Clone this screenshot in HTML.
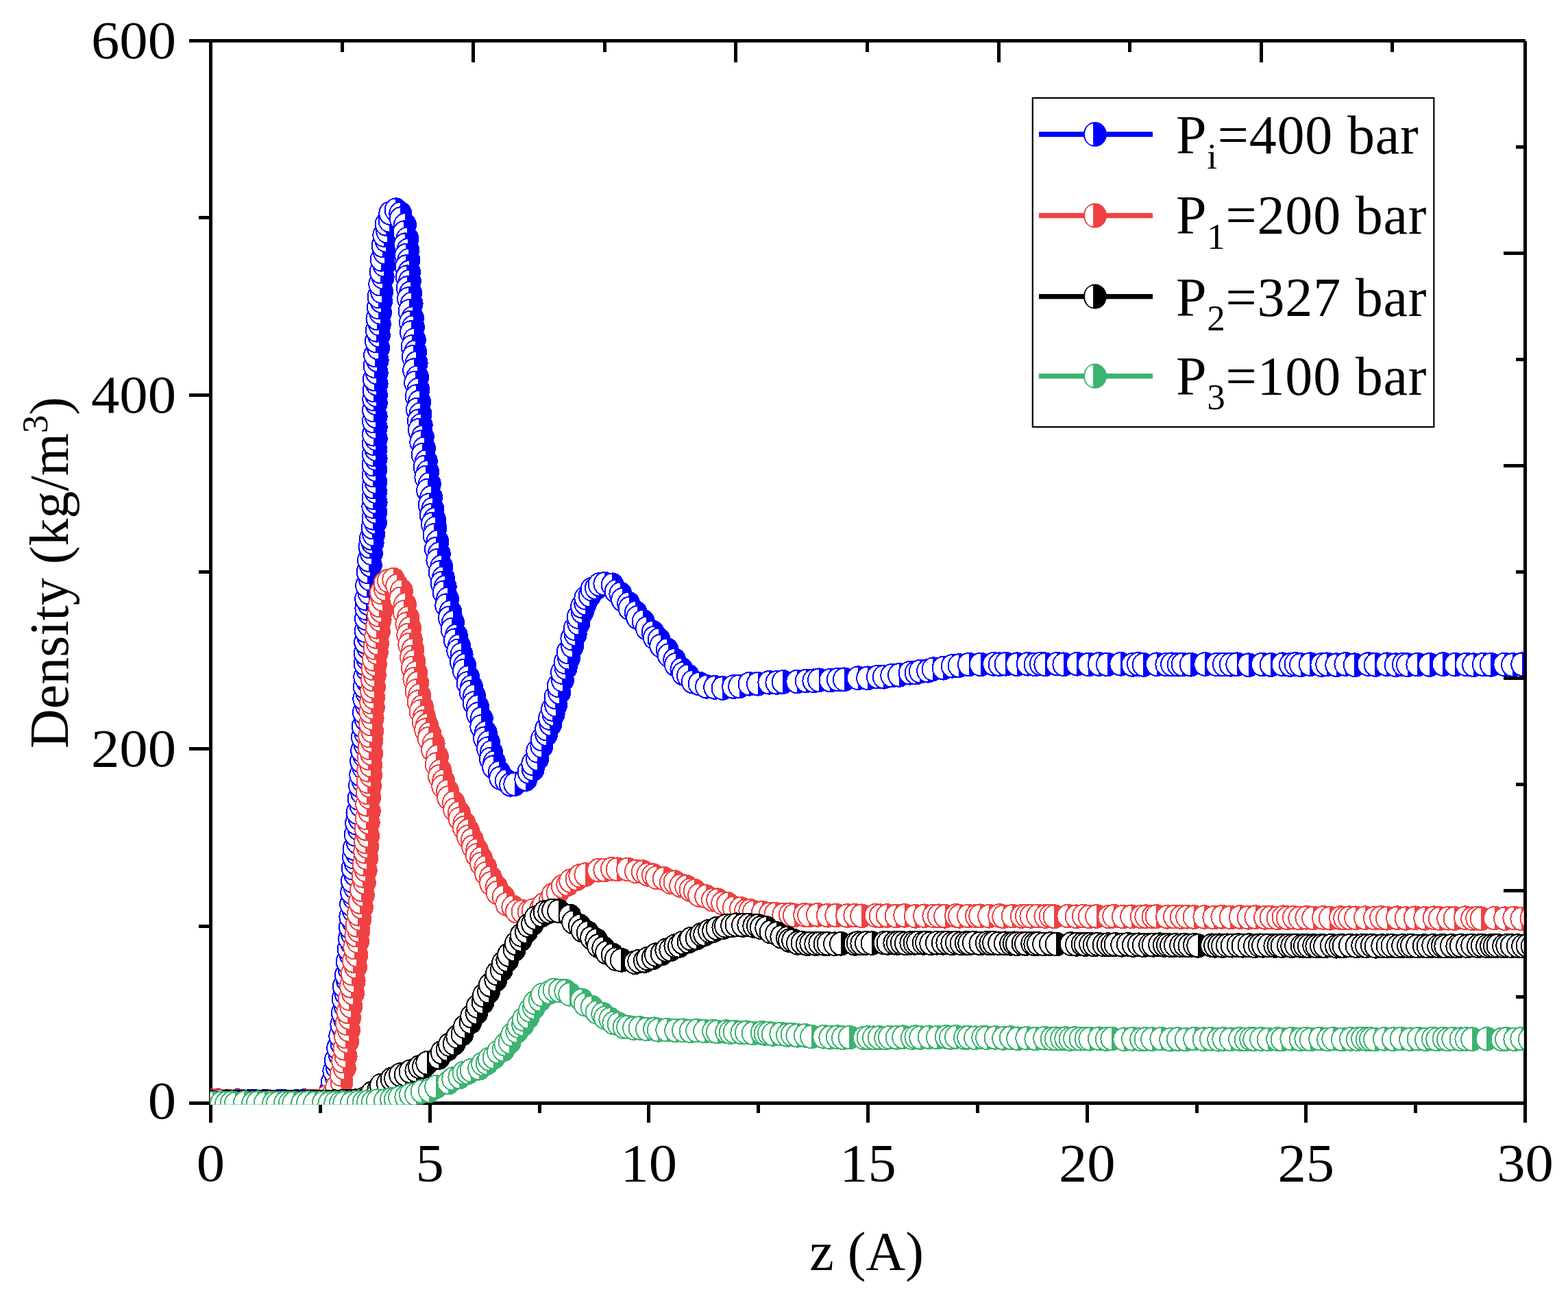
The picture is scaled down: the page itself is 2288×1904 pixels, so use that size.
<!DOCTYPE html><html><head><meta charset="utf-8"><style>html,body{margin:0;padding:0;background:#fff;}svg{display:block}text{font-family:"Liberation Serif","Times New Roman",serif;fill:#000}</style></head><body><svg width="2288" height="1904" viewBox="0 0 2288 1904"><defs><g id="mb"><ellipse rx="17" ry="17.9" fill="#0000FF"/><path d="M-0.4,-15.7A14.6 15.7 0 0 0 -0.4,15.7Z" fill="#fff"/></g><g id="Lb"><ellipse rx="17" ry="18.1" fill="#0000FF"/><path d="M-2.85,-15.6A12 15.6 0 0 0 -2.85,15.6Z" fill="#fff"/></g><g id="mr"><ellipse rx="17" ry="17.9" fill="#EF4142"/><path d="M-0.4,-15.7A14.6 15.7 0 0 0 -0.4,15.7Z" fill="#fff"/></g><g id="Lr"><ellipse rx="17" ry="18.1" fill="#EF4142"/><path d="M-2.85,-15.6A12 15.6 0 0 0 -2.85,15.6Z" fill="#fff"/></g><g id="mk"><ellipse rx="17" ry="17.9" fill="#000000"/><path d="M-0.4,-15.7A14.6 15.7 0 0 0 -0.4,15.7Z" fill="#fff"/></g><g id="Lk"><ellipse rx="17" ry="18.1" fill="#000000"/><path d="M-2.85,-15.6A12 15.6 0 0 0 -2.85,15.6Z" fill="#fff"/></g><g id="mg"><ellipse rx="17" ry="17.9" fill="#3CB371"/><path d="M-0.4,-15.7A14.6 15.7 0 0 0 -0.4,15.7Z" fill="#fff"/></g><g id="Lg"><ellipse rx="17" ry="18.1" fill="#3CB371"/><path d="M-2.85,-15.6A12 15.6 0 0 0 -2.85,15.6Z" fill="#fff"/></g><clipPath id="pc"><rect x="306.8" y="57" width="1916.7" height="1554.5"/></clipPath></defs><rect width="2288" height="1904" fill="#fff"/><path d="M275.7,59.5H2225.5M307.5,59.5V1638M275.7,1609.5H2225.5M2225.5,59.5V1638" stroke="#000" stroke-width="5" fill="none" shape-rendering="crispEdges"/><path d="M467.3,1609.5V1623.8M627.2,1609.5V1638M787.0,1609.5V1623.8M946.8,1609.5V1638M1106.7,1609.5V1623.8M1266.5,1609.5V1638M1426.3,1609.5V1623.8M1586.2,1609.5V1638M1746.0,1609.5V1623.8M1905.8,1609.5V1638M2065.7,1609.5V1623.8M307.5,1351.2H290M307.5,1092.8H275.7M307.5,834.5H290M307.5,576.2H275.7M307.5,317.8H290M499.1,59.5V76.4M690.7,59.5V90.7M882.3,59.5V76.4M1073.9,59.5V90.7M1265.5,59.5V76.4M1457.1,59.5V90.7M1648.7,59.5V76.4M1840.3,59.5V90.7M2031.9,59.5V76.4M2225.5,214.5H2211.5M2225.5,369.5H2194.3M2225.5,524.4H2211.5M2225.5,679.4H2194.3M2225.5,834.4H2211.5M2225.5,989.4H2194.3M2225.5,1144.4H2211.5M2225.5,1299.3H2194.3M2225.5,1454.3H2211.5" stroke="#000" stroke-width="5" fill="none" shape-rendering="crispEdges"/><g clip-path="url(#pc)" shape-rendering="crispEdges"><use href="#mb" x="290.0" y="1605.5"/><use href="#mb" x="307.9" y="1606.8"/><use href="#mb" x="317.4" y="1605.8"/><use href="#mb" x="329.6" y="1606.8"/><use href="#mb" x="346.5" y="1606.0"/><use href="#mb" x="352.8" y="1606.7"/><use href="#mb" x="364.8" y="1606.7"/><use href="#mb" x="370.9" y="1606.8"/><use href="#mb" x="386.9" y="1606.5"/><use href="#mb" x="406.0" y="1607.1"/><use href="#mb" x="412.5" y="1606.5"/><use href="#mb" x="432.6" y="1607.0"/><use href="#mb" x="443.9" y="1606.1"/><use href="#mb" x="455.7" y="1606.9"/><use href="#mb" x="474.2" y="1603.8"/><use href="#mb" x="482.3" y="1600.0"/><use href="#mb" x="482.3" y="1592.0"/><use href="#mb" x="487.5" y="1586.0"/><use href="#mb" x="485.0" y="1578.4"/><use href="#mb" x="490.4" y="1570.8"/><use href="#mb" x="487.4" y="1562.8"/><use href="#mb" x="491.9" y="1557.3"/><use href="#mb" x="489.8" y="1546.7"/><use href="#mb" x="495.6" y="1538.8"/><use href="#mb" x="493.2" y="1529.0"/><use href="#mb" x="498.5" y="1522.9"/><use href="#mb" x="496.3" y="1511.4"/><use href="#mb" x="501.6" y="1501.8"/><use href="#mb" x="498.4" y="1494.8"/><use href="#mb" x="503.1" y="1487.5"/><use href="#mb" x="499.8" y="1477.7"/><use href="#mb" x="503.9" y="1468.2"/><use href="#mb" x="500.6" y="1457.4"/><use href="#mb" x="504.6" y="1449.6"/><use href="#mb" x="501.8" y="1439.0"/><use href="#mb" x="507.0" y="1430.4"/><use href="#mb" x="505.0" y="1422.5"/><use href="#mb" x="509.6" y="1414.0"/><use href="#mb" x="506.7" y="1403.3"/><use href="#mb" x="511.9" y="1393.5"/><use href="#mb" x="508.7" y="1384.6"/><use href="#mb" x="513.2" y="1376.0"/><use href="#mb" x="510.0" y="1369.6"/><use href="#mb" x="513.9" y="1362.6"/><use href="#mb" x="510.8" y="1352.4"/><use href="#mb" x="515.3" y="1344.6"/><use href="#mb" x="511.4" y="1337.5"/><use href="#mb" x="515.9" y="1329.0"/><use href="#mb" x="512.1" y="1319.3"/><use href="#mb" x="516.7" y="1310.1"/><use href="#mb" x="513.2" y="1302.1"/><use href="#mb" x="517.5" y="1294.1"/><use href="#mb" x="514.0" y="1285.4"/><use href="#mb" x="518.1" y="1275.7"/><use href="#mb" x="514.6" y="1266.8"/><use href="#mb" x="518.9" y="1259.1"/><use href="#mb" x="515.9" y="1250.4"/><use href="#mb" x="520.2" y="1244.6"/><use href="#mb" x="516.6" y="1238.1"/><use href="#mb" x="521.7" y="1229.0"/><use href="#mb" x="518.7" y="1217.7"/><use href="#mb" x="523.5" y="1209.2"/><use href="#mb" x="520.2" y="1200.9"/><use href="#mb" x="524.6" y="1194.4"/><use href="#mb" x="521.5" y="1185.6"/><use href="#mb" x="526.5" y="1175.1"/><use href="#mb" x="523.5" y="1164.9"/><use href="#mb" x="528.1" y="1156.5"/><use href="#mb" x="525.0" y="1146.0"/><use href="#mb" x="529.5" y="1139.1"/><use href="#mb" x="526.3" y="1130.3"/><use href="#mb" x="530.3" y="1119.8"/><use href="#mb" x="527.2" y="1110.7"/><use href="#mb" x="531.3" y="1102.6"/><use href="#mb" x="528.2" y="1095.1"/><use href="#mb" x="532.7" y="1086.6"/><use href="#mb" x="528.9" y="1075.6"/><use href="#mb" x="533.4" y="1069.8"/><use href="#mb" x="529.7" y="1059.7"/><use href="#mb" x="533.8" y="1049.7"/><use href="#mb" x="530.9" y="1039.2"/><use href="#mb" x="534.8" y="1029.6"/><use href="#mb" x="531.3" y="1019.5"/><use href="#mb" x="535.5" y="1011.0"/><use href="#mb" x="531.8" y="1002.1"/><use href="#mb" x="535.9" y="994.0"/><use href="#mb" x="532.3" y="987.7"/><use href="#mb" x="536.3" y="977.4"/><use href="#mb" x="532.7" y="968.5"/><use href="#mb" x="536.5" y="961.6"/><use href="#mb" x="532.8" y="953.0"/><use href="#mb" x="536.7" y="944.6"/><use href="#mb" x="533.1" y="936.8"/><use href="#mb" x="537.3" y="929.1"/><use href="#mb" x="533.5" y="920.4"/><use href="#mb" x="537.7" y="911.3"/><use href="#mb" x="533.9" y="902.2"/><use href="#mb" x="537.9" y="894.0"/><use href="#mb" x="534.4" y="887.7"/><use href="#mb" x="537.8" y="880.7"/><use href="#mb" x="534.2" y="873.7"/><use href="#mb" x="538.4" y="864.9"/><use href="#mb" x="535.2" y="854.4"/><use href="#mb" x="539.6" y="844.7"/><use href="#mb" x="536.6" y="834.5"/><use href="#mb" x="540.8" y="824.7"/><use href="#mb" x="537.9" y="817.1"/><use href="#mb" x="541.9" y="807.2"/><use href="#mb" x="539.5" y="797.6"/><use href="#mb" x="543.6" y="791.6"/><use href="#mb" x="541.0" y="785.1"/><use href="#mb" x="545.2" y="779.6"/><use href="#mb" x="543.5" y="769.5"/><use href="#mb" x="547.8" y="762.6"/><use href="#mb" x="544.5" y="755.9"/><use href="#mb" x="548.2" y="746.9"/><use href="#mb" x="544.3" y="739.1"/><use href="#mb" x="548.6" y="732.8"/><use href="#mb" x="544.5" y="726.0"/><use href="#mb" x="548.1" y="717.3"/><use href="#mb" x="544.6" y="710.5"/><use href="#mb" x="548.4" y="703.1"/><use href="#mb" x="544.6" y="693.5"/><use href="#mb" x="548.3" y="685.3"/><use href="#mb" x="544.5" y="677.7"/><use href="#mb" x="548.6" y="669.3"/><use href="#mb" x="544.8" y="663.2"/><use href="#mb" x="548.4" y="655.3"/><use href="#mb" x="544.8" y="647.1"/><use href="#mb" x="548.8" y="640.2"/><use href="#mb" x="545.0" y="633.7"/><use href="#mb" x="548.7" y="623.2"/><use href="#mb" x="544.9" y="614.6"/><use href="#mb" x="548.7" y="607.6"/><use href="#mb" x="545.0" y="598.5"/><use href="#mb" x="548.8" y="588.5"/><use href="#mb" x="545.3" y="582.3"/><use href="#mb" x="548.9" y="576.3"/><use href="#mb" x="545.6" y="569.5"/><use href="#mb" x="549.6" y="560.0"/><use href="#mb" x="545.9" y="553.1"/><use href="#mb" x="549.7" y="543.7"/><use href="#mb" x="546.5" y="534.2"/><use href="#mb" x="550.7" y="525.6"/><use href="#mb" x="547.1" y="518.3"/><use href="#mb" x="552.1" y="507.7"/><use href="#mb" x="548.8" y="497.5"/><use href="#mb" x="552.9" y="489.2"/><use href="#mb" x="549.7" y="481.8"/><use href="#mb" x="553.8" y="472.8"/><use href="#mb" x="550.5" y="464.6"/><use href="#mb" x="555.1" y="456.0"/><use href="#mb" x="551.9" y="448.2"/><use href="#mb" x="556.2" y="439.3"/><use href="#mb" x="552.5" y="432.7"/><use href="#mb" x="557.1" y="425.6"/><use href="#mb" x="554.3" y="414.5"/><use href="#mb" x="558.7" y="404.4"/><use href="#mb" x="555.6" y="396.6"/><use href="#mb" x="560.3" y="386.7"/><use href="#mb" x="556.6" y="378.8"/><use href="#mb" x="561.2" y="368.4"/><use href="#mb" x="558.5" y="358.4"/><use href="#mb" x="563.4" y="350.9"/><use href="#mb" x="560.3" y="343.1"/><use href="#mb" x="565.3" y="337.8"/><use href="#mb" x="563.6" y="326.9"/><use href="#mb" x="568.5" y="321.9"/><use href="#mb" x="569.3" y="311.0"/><use href="#mb" x="577.6" y="306.2"/><use href="#mb" x="584.3" y="311.6"/><use href="#mb" x="584.7" y="319.1"/><use href="#mb" x="590.9" y="328.0"/><use href="#mb" x="589.5" y="339.3"/><use href="#mb" x="594.4" y="348.3"/><use href="#mb" x="591.0" y="357.2"/><use href="#mb" x="595.3" y="364.8"/><use href="#mb" x="592.2" y="372.7"/><use href="#mb" x="596.3" y="379.6"/><use href="#mb" x="592.7" y="389.1"/><use href="#mb" x="596.9" y="397.0"/><use href="#mb" x="593.7" y="404.2"/><use href="#mb" x="597.8" y="410.5"/><use href="#mb" x="594.8" y="420.1"/><use href="#mb" x="599.1" y="427.3"/><use href="#mb" x="596.1" y="436.0"/><use href="#mb" x="600.6" y="443.3"/><use href="#mb" x="597.5" y="453.9"/><use href="#mb" x="602.1" y="464.1"/><use href="#mb" x="598.8" y="470.5"/><use href="#mb" x="602.9" y="477.2"/><use href="#mb" x="600.1" y="485.1"/><use href="#mb" x="604.8" y="495.7"/><use href="#mb" x="601.5" y="505.9"/><use href="#mb" x="606.1" y="513.2"/><use href="#mb" x="602.9" y="520.6"/><use href="#mb" x="607.6" y="529.6"/><use href="#mb" x="604.2" y="540.1"/><use href="#mb" x="609.2" y="550.4"/><use href="#mb" x="606.1" y="558.4"/><use href="#mb" x="610.4" y="568.5"/><use href="#mb" x="607.6" y="578.2"/><use href="#mb" x="612.1" y="586.2"/><use href="#mb" x="608.9" y="597.5"/><use href="#mb" x="613.5" y="604.3"/><use href="#mb" x="610.7" y="614.2"/><use href="#mb" x="614.7" y="620.3"/><use href="#mb" x="611.8" y="627.5"/><use href="#mb" x="616.8" y="637.5"/><use href="#mb" x="614.3" y="645.0"/><use href="#mb" x="619.0" y="654.2"/><use href="#mb" x="616.7" y="663.6"/><use href="#mb" x="621.8" y="673.2"/><use href="#mb" x="619.5" y="681.4"/><use href="#mb" x="624.1" y="688.6"/><use href="#mb" x="621.4" y="696.5"/><use href="#mb" x="626.8" y="706.2"/><use href="#mb" x="624.1" y="715.6"/><use href="#mb" x="629.2" y="725.8"/><use href="#mb" x="626.7" y="736.7"/><use href="#mb" x="631.4" y="742.8"/><use href="#mb" x="628.9" y="752.0"/><use href="#mb" x="634.0" y="757.8"/><use href="#mb" x="630.8" y="764.5"/><use href="#mb" x="635.4" y="770.3"/><use href="#mb" x="633.5" y="781.0"/><use href="#mb" x="638.4" y="790.4"/><use href="#mb" x="635.9" y="801.0"/><use href="#mb" x="640.8" y="808.0"/><use href="#mb" x="638.4" y="817.6"/><use href="#mb" x="644.3" y="826.7"/><use href="#mb" x="641.6" y="835.1"/><use href="#mb" x="646.8" y="843.2"/><use href="#mb" x="644.6" y="850.9"/><use href="#mb" x="649.7" y="856.4"/><use href="#mb" x="647.7" y="864.3"/><use href="#mb" x="653.0" y="873.8"/><use href="#mb" x="651.3" y="883.3"/><use href="#mb" x="657.4" y="892.8"/><use href="#mb" x="655.8" y="901.6"/><use href="#mb" x="660.9" y="908.0"/><use href="#mb" x="659.7" y="918.6"/><use href="#mb" x="665.9" y="927.4"/><use href="#mb" x="663.9" y="934.2"/><use href="#mb" x="670.1" y="942.2"/><use href="#mb" x="668.3" y="949.4"/><use href="#mb" x="673.6" y="954.8"/><use href="#mb" x="673.0" y="965.8"/><use href="#mb" x="678.2" y="970.7"/><use href="#mb" x="677.0" y="978.6"/><use href="#mb" x="683.4" y="988.1"/><use href="#mb" x="682.5" y="996.9"/><use href="#mb" x="688.1" y="1002.0"/><use href="#mb" x="686.6" y="1009.6"/><use href="#mb" x="692.2" y="1015.4"/><use href="#mb" x="691.7" y="1025.8"/><use href="#mb" x="697.0" y="1030.9"/><use href="#mb" x="697.0" y="1042.0"/><use href="#mb" x="702.8" y="1048.5"/><use href="#mb" x="702.3" y="1060.0"/><use href="#mb" x="708.8" y="1069.0"/><use href="#mb" x="707.1" y="1077.3"/><use href="#mb" x="713.0" y="1083.1"/><use href="#mb" x="712.0" y="1092.2"/><use href="#mb" x="717.1" y="1097.5"/><use href="#mb" x="716.0" y="1107.4"/><use href="#mb" x="721.3" y="1112.3"/><use href="#mb" x="720.2" y="1119.2"/><use href="#mb" x="728.6" y="1127.1"/><use href="#mb" x="730.3" y="1135.1"/><use href="#mb" x="738.8" y="1139.2"/><use href="#mb" x="745.1" y="1144.8"/><use href="#mb" x="751.3" y="1144.1"/><use href="#mb" x="767.3" y="1137.0"/><use href="#mb" x="771.5" y="1126.3"/><use href="#mb" x="777.7" y="1122.3"/><use href="#mb" x="777.3" y="1114.2"/><use href="#mb" x="784.1" y="1107.2"/><use href="#mb" x="784.3" y="1095.7"/><use href="#mb" x="790.4" y="1088.6"/><use href="#mb" x="790.8" y="1078.6"/><use href="#mb" x="797.3" y="1071.2"/><use href="#mb" x="797.2" y="1063.4"/><use href="#mb" x="803.4" y="1056.3"/><use href="#mb" x="802.2" y="1048.0"/><use href="#mb" x="807.6" y="1042.1"/><use href="#mb" x="806.0" y="1035.0"/><use href="#mb" x="811.2" y="1028.7"/><use href="#mb" x="810.5" y="1017.3"/><use href="#mb" x="816.1" y="1010.2"/><use href="#mb" x="814.8" y="1000.3"/><use href="#mb" x="820.9" y="992.4"/><use href="#mb" x="820.1" y="981.0"/><use href="#mb" x="825.7" y="974.4"/><use href="#mb" x="824.6" y="966.2"/><use href="#mb" x="830.1" y="959.9"/><use href="#mb" x="828.6" y="951.5"/><use href="#mb" x="835.2" y="942.8"/><use href="#mb" x="834.4" y="931.7"/><use href="#mb" x="839.7" y="925.3"/><use href="#mb" x="838.6" y="917.1"/><use href="#mb" x="844.3" y="909.6"/><use href="#mb" x="843.7" y="900.1"/><use href="#mb" x="849.8" y="892.7"/><use href="#mb" x="849.1" y="884.8"/><use href="#mb" x="854.3" y="880.4"/><use href="#mb" x="854.4" y="872.3"/><use href="#mb" x="860.7" y="868.7"/><use href="#mb" x="863.5" y="859.8"/><use href="#mb" x="870.0" y="857.7"/><use href="#mb" x="874.6" y="852.9"/><use href="#mb" x="882.4" y="851.8"/><use href="#mb" x="893.7" y="853.3"/><use href="#mb" x="898.8" y="862.9"/><use href="#mb" x="905.4" y="866.2"/><use href="#mb" x="908.2" y="874.9"/><use href="#mb" x="917.2" y="880.5"/><use href="#mb" x="918.6" y="887.6"/><use href="#mb" x="927.8" y="893.9"/><use href="#mb" x="930.2" y="900.9"/><use href="#mb" x="938.7" y="906.6"/><use href="#mb" x="943.8" y="916.6"/><use href="#mb" x="952.6" y="922.4"/><use href="#mb" x="954.9" y="930.4"/><use href="#mb" x="961.7" y="933.3"/><use href="#mb" x="964.3" y="942.2"/><use href="#mb" x="973.7" y="948.2"/><use href="#mb" x="975.8" y="956.1"/><use href="#mb" x="984.3" y="962.8"/><use href="#mb" x="986.0" y="969.8"/><use href="#mb" x="994.5" y="976.6"/><use href="#mb" x="996.9" y="982.7"/><use href="#mb" x="1004.0" y="986.2"/><use href="#mb" x="1010.8" y="994.7"/><use href="#mb" x="1020.6" y="997.5"/><use href="#mb" x="1031.0" y="1001.8"/><use href="#mb" x="1043.2" y="1002.9"/><use href="#mb" x="1054.5" y="1004.0"/><use href="#mb" x="1070.2" y="1002.0"/><use href="#mb" x="1079.1" y="1001.4"/><use href="#mb" x="1093.5" y="997.8"/><use href="#mb" x="1105.9" y="997.7"/><use href="#mb" x="1122.4" y="995.8"/><use href="#mb" x="1133.4" y="995.9"/><use href="#mb" x="1142.7" y="994.9"/><use href="#mb" x="1163.3" y="994.5"/><use href="#mb" x="1176.7" y="993.4"/><use href="#mb" x="1187.4" y="993.3"/><use href="#mb" x="1195.0" y="992.3"/><use href="#mb" x="1211.7" y="992.6"/><use href="#mb" x="1222.9" y="991.4"/><use href="#mb" x="1231.9" y="991.3"/><use href="#mb" x="1251.9" y="989.2"/><use href="#mb" x="1266.2" y="989.3"/><use href="#mb" x="1280.8" y="987.6"/><use href="#mb" x="1289.8" y="987.7"/><use href="#mb" x="1301.3" y="985.6"/><use href="#mb" x="1312.0" y="985.0"/><use href="#mb" x="1327.6" y="981.8"/><use href="#mb" x="1336.6" y="981.6"/><use href="#mb" x="1342.8" y="979.5"/><use href="#mb" x="1354.2" y="978.7"/><use href="#mb" x="1361.6" y="976.2"/><use href="#mb" x="1376.7" y="974.7"/><use href="#mb" x="1389.7" y="971.8"/><use href="#mb" x="1399.6" y="971.1"/><use href="#mb" x="1413.9" y="969.4"/><use href="#mb" x="1430.9" y="969.4"/><use href="#mb" x="1450.1" y="968.8"/><use href="#mb" x="1458.6" y="969.3"/><use href="#mb" x="1467.6" y="968.8"/><use href="#mb" x="1484.2" y="969.2"/><use href="#mb" x="1499.7" y="968.7"/><use href="#mb" x="1510.5" y="969.4"/><use href="#mb" x="1518.8" y="968.5"/><use href="#mb" x="1525.4" y="969.3"/><use href="#mb" x="1542.7" y="968.6"/><use href="#mb" x="1552.4" y="969.3"/><use href="#mb" x="1571.8" y="968.7"/><use href="#mb" x="1588.6" y="969.5"/><use href="#mb" x="1603.7" y="969.0"/><use href="#mb" x="1615.9" y="969.4"/><use href="#mb" x="1635.4" y="968.8"/><use href="#mb" x="1652.6" y="969.9"/><use href="#mb" x="1660.9" y="968.9"/><use href="#mb" x="1668.7" y="969.9"/><use href="#mb" x="1688.0" y="969.3"/><use href="#mb" x="1702.4" y="969.6"/><use href="#mb" x="1710.1" y="969.3"/><use href="#mb" x="1719.6" y="969.7"/><use href="#mb" x="1725.6" y="969.5"/><use href="#mb" x="1737.7" y="969.7"/><use href="#mb" x="1758.3" y="969.0"/><use href="#mb" x="1775.9" y="969.6"/><use href="#mb" x="1785.9" y="969.4"/><use href="#mb" x="1795.7" y="969.7"/><use href="#mb" x="1805.3" y="969.2"/><use href="#mb" x="1822.3" y="970.2"/><use href="#mb" x="1841.9" y="969.4"/><use href="#mb" x="1854.8" y="970.0"/><use href="#mb" x="1871.6" y="969.3"/><use href="#mb" x="1882.9" y="970.0"/><use href="#mb" x="1890.5" y="969.0"/><use href="#mb" x="1898.1" y="970.1"/><use href="#mb" x="1911.7" y="969.2"/><use href="#mb" x="1928.4" y="970.1"/><use href="#mb" x="1936.3" y="969.3"/><use href="#mb" x="1950.3" y="970.2"/><use href="#mb" x="1963.4" y="969.0"/><use href="#mb" x="1976.8" y="970.2"/><use href="#mb" x="1996.5" y="969.1"/><use href="#mb" x="2006.8" y="969.9"/><use href="#mb" x="2023.8" y="969.3"/><use href="#mb" x="2036.6" y="970.2"/><use href="#mb" x="2047.9" y="969.4"/><use href="#mb" x="2054.0" y="970.2"/><use href="#mb" x="2068.4" y="969.6"/><use href="#mb" x="2086.0" y="969.9"/><use href="#mb" x="2105.8" y="969.1"/><use href="#mb" x="2123.5" y="969.7"/><use href="#mb" x="2139.9" y="969.4"/><use href="#mb" x="2150.2" y="970.2"/><use href="#mb" x="2164.8" y="969.4"/><use href="#mb" x="2175.9" y="969.8"/><use href="#mb" x="2195.4" y="969.4"/><use href="#mb" x="2207.1" y="970.0"/><use href="#mb" x="2221.3" y="969.2"/><use href="#mb" x="2239.9" y="970.0"/><use href="#mr" x="290.0" y="1604.9"/><use href="#mr" x="305.4" y="1605.7"/><use href="#mr" x="311.3" y="1605.6"/><use href="#mr" x="324.0" y="1606.4"/><use href="#mr" x="332.3" y="1606.4"/><use href="#mr" x="343.7" y="1606.9"/><use href="#mr" x="350.4" y="1606.9"/><use href="#mr" x="359.5" y="1607.7"/><use href="#mr" x="375.2" y="1607.4"/><use href="#mr" x="386.0" y="1608.3"/><use href="#mr" x="393.9" y="1607.3"/><use href="#mr" x="412.0" y="1608.1"/><use href="#mr" x="420.5" y="1607.7"/><use href="#mr" x="435.2" y="1607.9"/><use href="#mr" x="446.2" y="1606.8"/><use href="#mr" x="451.4" y="1607.3"/><use href="#mr" x="457.7" y="1606.4"/><use href="#mr" x="472.8" y="1605.1"/><use href="#mr" x="477.3" y="1600.4"/><use href="#mr" x="486.9" y="1595.5"/><use href="#mr" x="491.2" y="1586.1"/><use href="#mr" x="498.5" y="1579.0"/><use href="#mr" x="497.5" y="1567.8"/><use href="#mr" x="502.8" y="1558.7"/><use href="#mr" x="500.2" y="1548.4"/><use href="#mr" x="504.6" y="1541.1"/><use href="#mr" x="502.4" y="1529.8"/><use href="#mr" x="507.1" y="1519.5"/><use href="#mr" x="504.1" y="1512.4"/><use href="#mr" x="508.9" y="1502.9"/><use href="#mr" x="505.7" y="1493.1"/><use href="#mr" x="510.0" y="1485.1"/><use href="#mr" x="507.4" y="1476.2"/><use href="#mr" x="512.3" y="1468.3"/><use href="#mr" x="509.8" y="1457.2"/><use href="#mr" x="515.0" y="1449.3"/><use href="#mr" x="512.0" y="1438.7"/><use href="#mr" x="516.6" y="1431.4"/><use href="#mr" x="513.8" y="1420.7"/><use href="#mr" x="519.0" y="1410.6"/><use href="#mr" x="515.8" y="1402.0"/><use href="#mr" x="520.4" y="1393.5"/><use href="#mr" x="517.3" y="1382.6"/><use href="#mr" x="522.1" y="1373.4"/><use href="#mr" x="519.4" y="1364.6"/><use href="#mr" x="523.4" y="1357.9"/><use href="#mr" x="520.5" y="1349.9"/><use href="#mr" x="525.3" y="1340.9"/><use href="#mr" x="522.7" y="1333.7"/><use href="#mr" x="527.9" y="1323.7"/><use href="#mr" x="524.9" y="1316.0"/><use href="#mr" x="529.8" y="1305.9"/><use href="#mr" x="527.0" y="1298.0"/><use href="#mr" x="531.8" y="1287.7"/><use href="#mr" x="529.5" y="1277.9"/><use href="#mr" x="533.7" y="1269.7"/><use href="#mr" x="530.7" y="1260.8"/><use href="#mr" x="535.2" y="1251.9"/><use href="#mr" x="532.3" y="1242.7"/><use href="#mr" x="536.3" y="1235.4"/><use href="#mr" x="533.2" y="1228.2"/><use href="#mr" x="537.1" y="1219.8"/><use href="#mr" x="533.8" y="1209.0"/><use href="#mr" x="537.7" y="1200.0"/><use href="#mr" x="534.7" y="1193.5"/><use href="#mr" x="538.8" y="1183.5"/><use href="#mr" x="535.1" y="1173.8"/><use href="#mr" x="539.1" y="1163.4"/><use href="#mr" x="535.8" y="1156.3"/><use href="#mr" x="540.0" y="1146.7"/><use href="#mr" x="536.7" y="1140.3"/><use href="#mr" x="541.0" y="1131.2"/><use href="#mr" x="537.3" y="1123.7"/><use href="#mr" x="541.1" y="1116.7"/><use href="#mr" x="537.6" y="1106.2"/><use href="#mr" x="542.2" y="1099.8"/><use href="#mr" x="538.7" y="1091.1"/><use href="#mr" x="542.4" y="1080.9"/><use href="#mr" x="539.1" y="1073.6"/><use href="#mr" x="543.2" y="1066.7"/><use href="#mr" x="540.1" y="1056.1"/><use href="#mr" x="543.6" y="1048.2"/><use href="#mr" x="540.3" y="1038.4"/><use href="#mr" x="544.8" y="1032.4"/><use href="#mr" x="541.2" y="1024.5"/><use href="#mr" x="545.2" y="1017.8"/><use href="#mr" x="542.0" y="1008.3"/><use href="#mr" x="546.0" y="1002.0"/><use href="#mr" x="542.9" y="991.1"/><use href="#mr" x="546.8" y="985.2"/><use href="#mr" x="543.6" y="975.3"/><use href="#mr" x="547.8" y="969.5"/><use href="#mr" x="544.9" y="961.9"/><use href="#mr" x="549.8" y="952.3"/><use href="#mr" x="546.5" y="945.1"/><use href="#mr" x="550.9" y="938.6"/><use href="#mr" x="548.3" y="928.9"/><use href="#mr" x="552.9" y="921.4"/><use href="#mr" x="549.7" y="914.8"/><use href="#mr" x="554.6" y="904.3"/><use href="#mr" x="552.0" y="897.2"/><use href="#mr" x="556.3" y="891.4"/><use href="#mr" x="553.4" y="883.4"/><use href="#mr" x="558.2" y="874.9"/><use href="#mr" x="556.0" y="864.5"/><use href="#mr" x="561.9" y="859.5"/><use href="#mr" x="561.6" y="850.9"/><use href="#mr" x="566.9" y="847.4"/><use href="#mr" x="574.3" y="845.7"/><use href="#mr" x="579.3" y="854.5"/><use href="#mr" x="585.9" y="862.2"/><use href="#mr" x="584.4" y="873.5"/><use href="#mr" x="591.0" y="881.9"/><use href="#mr" x="589.6" y="892.9"/><use href="#mr" x="595.5" y="901.4"/><use href="#mr" x="593.4" y="910.2"/><use href="#mr" x="598.1" y="916.8"/><use href="#mr" x="595.3" y="926.5"/><use href="#mr" x="599.9" y="933.5"/><use href="#mr" x="597.3" y="940.5"/><use href="#mr" x="602.3" y="948.1"/><use href="#mr" x="600.0" y="958.9"/><use href="#mr" x="604.2" y="965.0"/><use href="#mr" x="601.9" y="974.4"/><use href="#mr" x="607.1" y="981.6"/><use href="#mr" x="604.4" y="990.7"/><use href="#mr" x="609.4" y="996.7"/><use href="#mr" x="607.6" y="1008.0"/><use href="#mr" x="612.2" y="1014.6"/><use href="#mr" x="610.6" y="1024.0"/><use href="#mr" x="615.9" y="1031.2"/><use href="#mr" x="613.5" y="1038.0"/><use href="#mr" x="619.0" y="1045.7"/><use href="#mr" x="617.5" y="1053.1"/><use href="#mr" x="622.9" y="1058.0"/><use href="#mr" x="621.2" y="1065.0"/><use href="#mr" x="627.2" y="1070.2"/><use href="#mr" x="625.7" y="1077.6"/><use href="#mr" x="632.6" y="1084.9"/><use href="#mr" x="631.2" y="1094.3"/><use href="#mr" x="638.0" y="1103.8"/><use href="#mr" x="636.6" y="1115.1"/><use href="#mr" x="642.6" y="1124.9"/><use href="#mr" x="641.1" y="1132.8"/><use href="#mr" x="647.1" y="1139.5"/><use href="#mr" x="646.3" y="1147.5"/><use href="#mr" x="653.1" y="1154.3"/><use href="#mr" x="654.2" y="1163.9"/><use href="#mr" x="662.0" y="1171.2"/><use href="#mr" x="663.3" y="1181.3"/><use href="#mr" x="669.8" y="1186.1"/><use href="#mr" x="670.7" y="1194.7"/><use href="#mr" x="677.4" y="1201.1"/><use href="#mr" x="676.9" y="1208.0"/><use href="#mr" x="682.9" y="1212.0"/><use href="#mr" x="682.9" y="1220.9"/><use href="#mr" x="688.9" y="1225.3"/><use href="#mr" x="690.1" y="1235.4"/><use href="#mr" x="696.1" y="1240.5"/><use href="#mr" x="695.7" y="1247.9"/><use href="#mr" x="702.1" y="1252.5"/><use href="#mr" x="702.1" y="1260.4"/><use href="#mr" x="708.4" y="1265.3"/><use href="#mr" x="709.1" y="1274.5"/><use href="#mr" x="715.8" y="1280.4"/><use href="#mr" x="716.2" y="1288.8"/><use href="#mr" x="724.5" y="1294.5"/><use href="#mr" x="725.6" y="1302.4"/><use href="#mr" x="734.7" y="1308.6"/><use href="#mr" x="739.3" y="1318.9"/><use href="#mr" x="748.4" y="1323.3"/><use href="#mr" x="754.0" y="1329.7"/><use href="#mr" x="762.5" y="1330.0"/><use href="#mr" x="771.7" y="1330.7"/><use href="#mr" x="777.9" y="1328.2"/><use href="#mr" x="789.0" y="1325.9"/><use href="#mr" x="793.3" y="1319.6"/><use href="#mr" x="802.7" y="1314.0"/><use href="#mr" x="806.6" y="1305.2"/><use href="#mr" x="813.8" y="1301.9"/><use href="#mr" x="820.7" y="1293.2"/><use href="#mr" x="828.3" y="1290.3"/><use href="#mr" x="832.3" y="1285.2"/><use href="#mr" x="841.5" y="1282.3"/><use href="#mr" x="846.3" y="1277.9"/><use href="#mr" x="854.4" y="1276.0"/><use href="#mr" x="873.2" y="1269.7"/><use href="#mr" x="882.4" y="1269.4"/><use href="#mr" x="892.9" y="1267.7"/><use href="#mr" x="900.8" y="1268.3"/><use href="#mr" x="916.0" y="1268.4"/><use href="#mr" x="927.9" y="1271.3"/><use href="#mr" x="937.8" y="1272.1"/><use href="#mr" x="945.4" y="1275.9"/><use href="#mr" x="953.1" y="1277.1"/><use href="#mr" x="958.1" y="1280.5"/><use href="#mr" x="968.8" y="1281.9"/><use href="#mr" x="978.9" y="1287.4"/><use href="#mr" x="984.5" y="1287.0"/><use href="#mr" x="993.2" y="1292.1"/><use href="#mr" x="1001.3" y="1293.7"/><use href="#mr" x="1007.5" y="1298.3"/><use href="#mr" x="1013.7" y="1299.8"/><use href="#mr" x="1020.2" y="1306.0"/><use href="#mr" x="1030.2" y="1307.8"/><use href="#mr" x="1040.0" y="1312.7"/><use href="#mr" x="1047.2" y="1313.2"/><use href="#mr" x="1054.3" y="1317.7"/><use href="#mr" x="1061.9" y="1318.9"/><use href="#mr" x="1070.8" y="1324.5"/><use href="#mr" x="1080.9" y="1325.8"/><use href="#mr" x="1088.0" y="1329.1"/><use href="#mr" x="1094.4" y="1328.8"/><use href="#mr" x="1099.7" y="1330.8"/><use href="#mr" x="1112.7" y="1331.7"/><use href="#mr" x="1123.6" y="1333.4"/><use href="#mr" x="1131.5" y="1333.6"/><use href="#mr" x="1143.3" y="1334.7"/><use href="#mr" x="1152.9" y="1334.3"/><use href="#mr" x="1159.0" y="1335.5"/><use href="#mr" x="1174.2" y="1334.9"/><use href="#mr" x="1180.2" y="1335.6"/><use href="#mr" x="1192.9" y="1334.9"/><use href="#mr" x="1207.7" y="1335.7"/><use href="#mr" x="1220.3" y="1335.5"/><use href="#mr" x="1236.2" y="1336.0"/><use href="#mr" x="1247.4" y="1335.6"/><use href="#mr" x="1257.2" y="1336.3"/><use href="#mr" x="1277.6" y="1335.8"/><use href="#mr" x="1284.6" y="1336.3"/><use href="#mr" x="1294.8" y="1336.0"/><use href="#mr" x="1307.6" y="1336.5"/><use href="#mr" x="1320.3" y="1335.8"/><use href="#mr" x="1335.8" y="1336.8"/><use href="#mr" x="1349.0" y="1336.3"/><use href="#mr" x="1362.4" y="1336.4"/><use href="#mr" x="1369.8" y="1336.3"/><use href="#mr" x="1379.2" y="1336.8"/><use href="#mr" x="1395.0" y="1336.0"/><use href="#mr" x="1400.1" y="1336.8"/><use href="#mr" x="1412.9" y="1336.4"/><use href="#mr" x="1425.0" y="1336.6"/><use href="#mr" x="1430.2" y="1336.3"/><use href="#mr" x="1443.2" y="1336.7"/><use href="#mr" x="1458.2" y="1336.0"/><use href="#mr" x="1464.3" y="1337.2"/><use href="#mr" x="1477.7" y="1336.6"/><use href="#mr" x="1490.8" y="1337.0"/><use href="#mr" x="1497.9" y="1336.5"/><use href="#mr" x="1504.4" y="1336.9"/><use href="#mr" x="1514.2" y="1336.4"/><use href="#mr" x="1525.4" y="1337.1"/><use href="#mr" x="1532.7" y="1336.6"/><use href="#mr" x="1538.5" y="1337.2"/><use href="#mr" x="1558.4" y="1336.5"/><use href="#mr" x="1570.6" y="1337.3"/><use href="#mr" x="1580.9" y="1336.5"/><use href="#mr" x="1589.6" y="1337.4"/><use href="#mr" x="1600.1" y="1336.9"/><use href="#mr" x="1618.4" y="1337.6"/><use href="#mr" x="1625.3" y="1336.7"/><use href="#mr" x="1638.9" y="1337.5"/><use href="#mr" x="1651.2" y="1337.3"/><use href="#mr" x="1665.7" y="1337.6"/><use href="#mr" x="1672.4" y="1337.2"/><use href="#mr" x="1682.5" y="1337.6"/><use href="#mr" x="1687.6" y="1337.0"/><use href="#mr" x="1703.1" y="1337.8"/><use href="#mr" x="1714.0" y="1337.5"/><use href="#mr" x="1723.8" y="1338.0"/><use href="#mr" x="1732.2" y="1337.7"/><use href="#mr" x="1742.5" y="1338.0"/><use href="#mr" x="1757.4" y="1337.9"/><use href="#mr" x="1771.4" y="1338.6"/><use href="#mr" x="1783.4" y="1337.8"/><use href="#mr" x="1795.6" y="1338.5"/><use href="#mr" x="1809.7" y="1338.0"/><use href="#mr" x="1821.6" y="1338.8"/><use href="#mr" x="1832.4" y="1338.1"/><use href="#mr" x="1846.1" y="1338.8"/><use href="#mr" x="1854.5" y="1338.6"/><use href="#mr" x="1864.5" y="1339.4"/><use href="#mr" x="1872.5" y="1338.3"/><use href="#mr" x="1878.7" y="1339.2"/><use href="#mr" x="1887.9" y="1338.7"/><use href="#mr" x="1896.3" y="1339.6"/><use href="#mr" x="1906.4" y="1338.8"/><use href="#mr" x="1916.2" y="1339.4"/><use href="#mr" x="1931.0" y="1339.0"/><use href="#mr" x="1940.8" y="1339.7"/><use href="#mr" x="1956.0" y="1339.1"/><use href="#mr" x="1962.1" y="1339.6"/><use href="#mr" x="1969.1" y="1339.2"/><use href="#mr" x="1978.2" y="1339.3"/><use href="#mr" x="1992.0" y="1339.2"/><use href="#mr" x="2005.8" y="1339.5"/><use href="#mr" x="2015.2" y="1339.0"/><use href="#mr" x="2023.9" y="1339.7"/><use href="#mr" x="2039.1" y="1339.2"/><use href="#mr" x="2051.6" y="1339.9"/><use href="#mr" x="2064.8" y="1339.3"/><use href="#mr" x="2079.3" y="1339.8"/><use href="#mr" x="2092.6" y="1339.3"/><use href="#mr" x="2100.8" y="1340.1"/><use href="#mr" x="2113.1" y="1339.7"/><use href="#mr" x="2122.5" y="1340.0"/><use href="#mr" x="2138.0" y="1339.2"/><use href="#mr" x="2148.2" y="1340.3"/><use href="#mr" x="2155.2" y="1339.7"/><use href="#mr" x="2161.6" y="1340.3"/><use href="#mr" x="2181.0" y="1339.6"/><use href="#mr" x="2196.1" y="1340.2"/><use href="#mr" x="2209.4" y="1339.4"/><use href="#mr" x="2220.4" y="1340.5"/><use href="#mr" x="2234.5" y="1339.6"/><use href="#mk" x="290.0" y="1607.5"/><use href="#mk" x="297.3" y="1607.6"/><use href="#mk" x="304.9" y="1607.0"/><use href="#mk" x="309.3" y="1608.2"/><use href="#mk" x="330.6" y="1607.2"/><use href="#mk" x="336.0" y="1607.7"/><use href="#mk" x="342.9" y="1607.5"/><use href="#mk" x="349.7" y="1607.9"/><use href="#mk" x="354.6" y="1607.6"/><use href="#mk" x="363.8" y="1607.9"/><use href="#mk" x="372.3" y="1607.7"/><use href="#mk" x="376.6" y="1608.0"/><use href="#mk" x="384.2" y="1607.5"/><use href="#mk" x="388.4" y="1608.3"/><use href="#mk" x="395.2" y="1607.6"/><use href="#mk" x="404.5" y="1608.4"/><use href="#mk" x="414.0" y="1607.6"/><use href="#mk" x="422.8" y="1607.8"/><use href="#mk" x="432.4" y="1607.7"/><use href="#mk" x="437.0" y="1608.1"/><use href="#mk" x="442.3" y="1607.4"/><use href="#mk" x="448.9" y="1607.9"/><use href="#mk" x="454.7" y="1607.6"/><use href="#mk" x="461.0" y="1608.1"/><use href="#mk" x="468.5" y="1607.6"/><use href="#mk" x="478.0" y="1608.0"/><use href="#mk" x="487.5" y="1607.2"/><use href="#mk" x="497.4" y="1607.3"/><use href="#mk" x="502.3" y="1606.4"/><use href="#mk" x="512.0" y="1606.9"/><use href="#mk" x="519.4" y="1606.2"/><use href="#mk" x="524.8" y="1607.2"/><use href="#mk" x="531.2" y="1603.4"/><use href="#mk" x="536.2" y="1603.3"/><use href="#mk" x="542.7" y="1595.0"/><use href="#mk" x="552.5" y="1589.6"/><use href="#mk" x="556.0" y="1583.6"/><use href="#mk" x="565.9" y="1580.5"/><use href="#mk" x="571.6" y="1574.3"/><use href="#mk" x="577.2" y="1573.3"/><use href="#mk" x="584.2" y="1568.0"/><use href="#mk" x="591.8" y="1567.7"/><use href="#mk" x="598.6" y="1563.3"/><use href="#mk" x="607.4" y="1561.9"/><use href="#mk" x="612.2" y="1556.7"/><use href="#mk" x="618.1" y="1556.1"/><use href="#mk" x="623.3" y="1550.9"/><use href="#mk" x="640.5" y="1542.9"/><use href="#mk" x="644.8" y="1535.6"/><use href="#mk" x="652.8" y="1530.9"/><use href="#mk" x="656.0" y="1524.3"/><use href="#mk" x="662.8" y="1522.5"/><use href="#mk" x="667.4" y="1512.7"/><use href="#mk" x="674.5" y="1508.7"/><use href="#mk" x="678.1" y="1498.0"/><use href="#mk" x="686.6" y="1491.1"/><use href="#mk" x="688.3" y="1482.8"/><use href="#mk" x="695.5" y="1477.5"/><use href="#mk" x="696.7" y="1468.2"/><use href="#mk" x="704.6" y="1462.1"/><use href="#mk" x="705.8" y="1452.5"/><use href="#mk" x="713.2" y="1446.6"/><use href="#mk" x="714.9" y="1437.0"/><use href="#mk" x="723.4" y="1429.6"/><use href="#mk" x="724.9" y="1420.5"/><use href="#mk" x="731.7" y="1415.1"/><use href="#mk" x="733.9" y="1405.2"/><use href="#mk" x="740.4" y="1400.8"/><use href="#mk" x="742.2" y="1393.1"/><use href="#mk" x="750.7" y="1385.6"/><use href="#mk" x="752.8" y="1376.7"/><use href="#mk" x="760.1" y="1371.0"/><use href="#mk" x="760.7" y="1364.1"/><use href="#mk" x="768.0" y="1359.4"/><use href="#mk" x="771.0" y="1350.5"/><use href="#mk" x="777.1" y="1347.7"/><use href="#mk" x="781.4" y="1339.2"/><use href="#mk" x="790.2" y="1335.5"/><use href="#mk" x="794.7" y="1330.8"/><use href="#mk" x="801.3" y="1330.1"/><use href="#mk" x="807.1" y="1328.4"/><use href="#mk" x="815.2" y="1329.2"/><use href="#mk" x="831.5" y="1336.5"/><use href="#mk" x="836.2" y="1345.4"/><use href="#mk" x="845.9" y="1350.9"/><use href="#mk" x="849.7" y="1357.6"/><use href="#mk" x="857.7" y="1360.9"/><use href="#mk" x="863.2" y="1368.3"/><use href="#mk" x="870.4" y="1371.8"/><use href="#mk" x="872.9" y="1380.0"/><use href="#mk" x="880.3" y="1383.2"/><use href="#mk" x="885.1" y="1389.8"/><use href="#mk" x="893.7" y="1393.2"/><use href="#mk" x="898.9" y="1399.2"/><use href="#mk" x="906.8" y="1400.8"/><use href="#mk" x="926.6" y="1404.2"/><use href="#mk" x="932.3" y="1402.5"/><use href="#mk" x="940.9" y="1401.9"/><use href="#mk" x="945.1" y="1398.6"/><use href="#mk" x="952.9" y="1397.5"/><use href="#mk" x="957.1" y="1393.0"/><use href="#mk" x="965.6" y="1391.5"/><use href="#mk" x="972.4" y="1386.2"/><use href="#mk" x="978.4" y="1385.4"/><use href="#mk" x="985.4" y="1380.1"/><use href="#mk" x="991.0" y="1380.0"/><use href="#mk" x="996.3" y="1375.4"/><use href="#mk" x="1004.5" y="1373.7"/><use href="#mk" x="1008.2" y="1369.8"/><use href="#mk" x="1016.7" y="1368.7"/><use href="#mk" x="1023.3" y="1363.5"/><use href="#mk" x="1028.3" y="1363.2"/><use href="#mk" x="1035.1" y="1358.4"/><use href="#mk" x="1041.2" y="1357.9"/><use href="#mk" x="1046.6" y="1354.5"/><use href="#mk" x="1055.4" y="1353.1"/><use href="#mk" x="1059.1" y="1350.9"/><use href="#mk" x="1068.1" y="1350.5"/><use href="#mk" x="1074.5" y="1349.3"/><use href="#mk" x="1084.0" y="1349.9"/><use href="#mk" x="1092.4" y="1349.6"/><use href="#mk" x="1100.3" y="1351.0"/><use href="#mk" x="1106.0" y="1350.8"/><use href="#mk" x="1110.8" y="1353.3"/><use href="#mk" x="1118.3" y="1353.9"/><use href="#mk" x="1124.6" y="1359.6"/><use href="#mk" x="1133.0" y="1361.9"/><use href="#mk" x="1140.4" y="1366.8"/><use href="#mk" x="1149.0" y="1368.7"/><use href="#mk" x="1152.0" y="1372.1"/><use href="#mk" x="1157.2" y="1372.2"/><use href="#mk" x="1164.0" y="1375.8"/><use href="#mk" x="1170.5" y="1375.7"/><use href="#mk" x="1177.9" y="1377.1"/><use href="#mk" x="1183.4" y="1376.4"/><use href="#mk" x="1190.3" y="1377.0"/><use href="#mk" x="1196.4" y="1376.5"/><use href="#mk" x="1203.6" y="1377.1"/><use href="#mk" x="1208.6" y="1376.9"/><use href="#mk" x="1218.1" y="1377.2"/><use href="#mk" x="1227.0" y="1376.8"/><use href="#mk" x="1247.6" y="1376.9"/><use href="#mk" x="1251.8" y="1375.8"/><use href="#mk" x="1257.4" y="1376.6"/><use href="#mk" x="1264.0" y="1375.9"/><use href="#mk" x="1272.6" y="1376.1"/><use href="#mk" x="1290.8" y="1375.6"/><use href="#mk" x="1295.6" y="1375.9"/><use href="#mk" x="1305.4" y="1375.7"/><use href="#mk" x="1309.9" y="1375.9"/><use href="#mk" x="1315.8" y="1375.6"/><use href="#mk" x="1321.9" y="1376.4"/><use href="#mk" x="1329.4" y="1375.7"/><use href="#mk" x="1334.6" y="1375.9"/><use href="#mk" x="1339.3" y="1375.5"/><use href="#mk" x="1347.6" y="1375.9"/><use href="#mk" x="1352.1" y="1375.4"/><use href="#mk" x="1358.3" y="1376.3"/><use href="#mk" x="1367.0" y="1375.7"/><use href="#mk" x="1375.8" y="1375.8"/><use href="#mk" x="1382.4" y="1375.5"/><use href="#mk" x="1389.4" y="1376.3"/><use href="#mk" x="1395.9" y="1375.4"/><use href="#mk" x="1402.7" y="1376.4"/><use href="#mk" x="1409.9" y="1375.9"/><use href="#mk" x="1414.3" y="1376.3"/><use href="#mk" x="1420.9" y="1375.6"/><use href="#mk" x="1430.5" y="1376.6"/><use href="#mk" x="1439.9" y="1375.8"/><use href="#mk" x="1445.4" y="1376.3"/><use href="#mk" x="1450.2" y="1375.8"/><use href="#mk" x="1458.1" y="1376.4"/><use href="#mk" x="1466.9" y="1376.3"/><use href="#mk" x="1475.2" y="1376.8"/><use href="#mk" x="1479.9" y="1376.3"/><use href="#mk" x="1483.9" y="1377.1"/><use href="#mk" x="1492.5" y="1376.7"/><use href="#mk" x="1497.1" y="1376.9"/><use href="#mk" x="1506.3" y="1376.5"/><use href="#mk" x="1510.4" y="1377.5"/><use href="#mk" x="1515.2" y="1376.8"/><use href="#mk" x="1523.2" y="1377.4"/><use href="#mk" x="1532.9" y="1377.0"/><use href="#mk" x="1541.7" y="1377.5"/><use href="#mk" x="1562.7" y="1377.1"/><use href="#mk" x="1571.0" y="1377.8"/><use href="#mk" x="1579.5" y="1377.4"/><use href="#mk" x="1583.8" y="1378.0"/><use href="#mk" x="1591.2" y="1377.6"/><use href="#mk" x="1596.7" y="1378.6"/><use href="#mk" x="1602.2" y="1377.5"/><use href="#mk" x="1610.7" y="1378.4"/><use href="#mk" x="1616.9" y="1378.1"/><use href="#mk" x="1623.0" y="1378.6"/><use href="#mk" x="1627.5" y="1377.9"/><use href="#mk" x="1637.3" y="1378.8"/><use href="#mk" x="1645.8" y="1377.8"/><use href="#mk" x="1653.9" y="1379.0"/><use href="#mk" x="1661.9" y="1378.3"/><use href="#mk" x="1668.8" y="1379.1"/><use href="#mk" x="1678.2" y="1378.5"/><use href="#mk" x="1682.8" y="1378.8"/><use href="#mk" x="1692.2" y="1378.2"/><use href="#mk" x="1698.9" y="1378.9"/><use href="#mk" x="1704.0" y="1378.6"/><use href="#mk" x="1709.2" y="1379.5"/><use href="#mk" x="1715.1" y="1378.9"/><use href="#mk" x="1723.2" y="1379.3"/><use href="#mk" x="1729.0" y="1378.8"/><use href="#mk" x="1735.5" y="1379.6"/><use href="#mk" x="1743.0" y="1378.7"/><use href="#mk" x="1748.3" y="1379.8"/><use href="#mk" x="1768.2" y="1379.3"/><use href="#mk" x="1773.2" y="1379.8"/><use href="#mk" x="1779.1" y="1379.3"/><use href="#mk" x="1784.0" y="1379.9"/><use href="#mk" x="1790.9" y="1379.3"/><use href="#mk" x="1797.7" y="1379.7"/><use href="#mk" x="1806.6" y="1379.1"/><use href="#mk" x="1813.5" y="1379.8"/><use href="#mk" x="1822.6" y="1379.1"/><use href="#mk" x="1831.0" y="1380.3"/><use href="#mk" x="1837.8" y="1379.3"/><use href="#mk" x="1843.2" y="1379.8"/><use href="#mk" x="1851.2" y="1379.4"/><use href="#mk" x="1860.4" y="1379.9"/><use href="#mk" x="1865.5" y="1379.5"/><use href="#mk" x="1870.6" y="1380.1"/><use href="#mk" x="1879.8" y="1379.4"/><use href="#mk" x="1885.3" y="1380.2"/><use href="#mk" x="1891.2" y="1379.6"/><use href="#mk" x="1899.5" y="1380.2"/><use href="#mk" x="1904.1" y="1379.9"/><use href="#mk" x="1909.8" y="1380.2"/><use href="#mk" x="1917.3" y="1379.8"/><use href="#mk" x="1921.4" y="1380.6"/><use href="#mk" x="1928.0" y="1380.0"/><use href="#mk" x="1933.2" y="1380.3"/><use href="#mk" x="1943.0" y="1379.5"/><use href="#mk" x="1950.2" y="1380.7"/><use href="#mk" x="1955.9" y="1379.8"/><use href="#mk" x="1960.6" y="1380.3"/><use href="#mk" x="1970.0" y="1379.6"/><use href="#mk" x="1979.6" y="1380.3"/><use href="#mk" x="1988.3" y="1379.7"/><use href="#mk" x="1994.1" y="1380.2"/><use href="#mk" x="2002.0" y="1379.6"/><use href="#mk" x="2007.6" y="1380.8"/><use href="#mk" x="2017.3" y="1380.1"/><use href="#mk" x="2024.6" y="1380.2"/><use href="#mk" x="2031.5" y="1379.9"/><use href="#mk" x="2039.8" y="1380.6"/><use href="#mk" x="2047.2" y="1379.9"/><use href="#mk" x="2055.1" y="1380.2"/><use href="#mk" x="2060.2" y="1379.8"/><use href="#mk" x="2068.1" y="1380.4"/><use href="#mk" x="2077.7" y="1380.1"/><use href="#mk" x="2083.7" y="1380.5"/><use href="#mk" x="2091.3" y="1379.8"/><use href="#mk" x="2099.2" y="1380.5"/><use href="#mk" x="2105.0" y="1379.6"/><use href="#mk" x="2109.4" y="1380.6"/><use href="#mk" x="2118.0" y="1380.0"/><use href="#mk" x="2126.4" y="1380.5"/><use href="#mk" x="2132.0" y="1379.7"/><use href="#mk" x="2141.2" y="1380.3"/><use href="#mk" x="2148.3" y="1379.5"/><use href="#mk" x="2156.9" y="1380.2"/><use href="#mk" x="2162.9" y="1379.6"/><use href="#mk" x="2170.1" y="1380.4"/><use href="#mk" x="2176.2" y="1379.9"/><use href="#mk" x="2180.9" y="1380.2"/><use href="#mk" x="2185.5" y="1379.8"/><use href="#mk" x="2194.2" y="1380.4"/><use href="#mk" x="2199.3" y="1379.8"/><use href="#mk" x="2205.8" y="1380.1"/><use href="#mk" x="2214.7" y="1380.0"/><use href="#mk" x="2222.2" y="1380.4"/><use href="#mk" x="2228.6" y="1379.6"/><use href="#mk" x="2235.8" y="1380.2"/><use href="#mg" x="290.0" y="1609.2"/><use href="#mg" x="295.9" y="1609.7"/><use href="#mg" x="302.3" y="1609.4"/><use href="#mg" x="310.9" y="1609.7"/><use href="#mg" x="323.1" y="1609.3"/><use href="#mg" x="330.1" y="1609.8"/><use href="#mg" x="337.6" y="1609.2"/><use href="#mg" x="343.6" y="1610.2"/><use href="#mg" x="356.9" y="1609.0"/><use href="#mg" x="369.1" y="1609.9"/><use href="#mg" x="375.9" y="1609.1"/><use href="#mg" x="386.5" y="1609.8"/><use href="#mg" x="399.2" y="1609.6"/><use href="#mg" x="405.0" y="1609.8"/><use href="#mg" x="416.0" y="1609.4"/><use href="#mg" x="422.6" y="1609.9"/><use href="#mg" x="428.4" y="1609.4"/><use href="#mg" x="441.2" y="1609.9"/><use href="#mg" x="448.9" y="1609.1"/><use href="#mg" x="459.1" y="1609.8"/><use href="#mg" x="471.7" y="1609.2"/><use href="#mg" x="480.4" y="1610.0"/><use href="#mg" x="489.3" y="1609.2"/><use href="#mg" x="497.0" y="1609.6"/><use href="#mg" x="502.4" y="1609.2"/><use href="#mg" x="513.0" y="1609.5"/><use href="#mg" x="522.6" y="1608.5"/><use href="#mg" x="530.5" y="1608.7"/><use href="#mg" x="537.1" y="1607.5"/><use href="#mg" x="543.8" y="1608.0"/><use href="#mg" x="550.9" y="1606.2"/><use href="#mg" x="562.0" y="1606.1"/><use href="#mg" x="571.1" y="1603.9"/><use href="#mg" x="576.9" y="1604.0"/><use href="#mg" x="583.2" y="1601.5"/><use href="#mg" x="592.4" y="1600.4"/><use href="#mg" x="599.0" y="1597.3"/><use href="#mg" x="607.0" y="1596.7"/><use href="#mg" x="615.6" y="1592.3"/><use href="#mg" x="626.7" y="1591.2"/><use href="#mg" x="636.2" y="1585.8"/><use href="#mg" x="654.4" y="1579.6"/><use href="#mg" x="661.2" y="1574.0"/><use href="#mg" x="670.4" y="1571.6"/><use href="#mg" x="676.7" y="1565.6"/><use href="#mg" x="682.8" y="1565.0"/><use href="#mg" x="687.6" y="1561.7"/><use href="#mg" x="699.1" y="1558.7"/><use href="#mg" x="704.1" y="1552.4"/><use href="#mg" x="710.6" y="1551.0"/><use href="#mg" x="713.9" y="1545.1"/><use href="#mg" x="720.7" y="1542.7"/><use href="#mg" x="727.0" y="1534.7"/><use href="#mg" x="734.6" y="1531.4"/><use href="#mg" x="737.4" y="1523.9"/><use href="#mg" x="743.6" y="1520.4"/><use href="#mg" x="747.2" y="1509.6"/><use href="#mg" x="754.3" y="1504.8"/><use href="#mg" x="756.4" y="1497.4"/><use href="#mg" x="763.1" y="1494.7"/><use href="#mg" x="763.8" y="1487.4"/><use href="#mg" x="770.7" y="1483.9"/><use href="#mg" x="773.0" y="1474.2"/><use href="#mg" x="779.0" y="1470.0"/><use href="#mg" x="779.9" y="1463.0"/><use href="#mg" x="787.9" y="1458.7"/><use href="#mg" x="791.1" y="1451.6"/><use href="#mg" x="801.7" y="1448.0"/><use href="#mg" x="808.7" y="1444.4"/><use href="#mg" x="816.6" y="1445.4"/><use href="#mg" x="825.3" y="1446.1"/><use href="#mg" x="831.3" y="1450.7"/><use href="#mg" x="849.0" y="1459.3"/><use href="#mg" x="853.7" y="1465.4"/><use href="#mg" x="863.6" y="1469.4"/><use href="#mg" x="870.8" y="1476.9"/><use href="#mg" x="879.3" y="1479.5"/><use href="#mg" x="883.1" y="1484.9"/><use href="#mg" x="890.4" y="1487.0"/><use href="#mg" x="895.4" y="1492.6"/><use href="#mg" x="902.6" y="1494.0"/><use href="#mg" x="910.6" y="1498.5"/><use href="#mg" x="916.1" y="1498.5"/><use href="#mg" x="925.1" y="1500.2"/><use href="#mg" x="933.5" y="1499.9"/><use href="#mg" x="943.9" y="1501.5"/><use href="#mg" x="955.1" y="1501.3"/><use href="#mg" x="960.8" y="1502.8"/><use href="#mg" x="973.3" y="1502.6"/><use href="#mg" x="986.2" y="1503.4"/><use href="#mg" x="997.0" y="1503.3"/><use href="#mg" x="1007.5" y="1504.4"/><use href="#mg" x="1017.2" y="1503.6"/><use href="#mg" x="1028.2" y="1504.6"/><use href="#mg" x="1041.2" y="1504.6"/><use href="#mg" x="1046.9" y="1505.4"/><use href="#mg" x="1060.2" y="1505.1"/><use href="#mg" x="1065.6" y="1506.1"/><use href="#mg" x="1071.7" y="1505.5"/><use href="#mg" x="1082.4" y="1506.5"/><use href="#mg" x="1088.9" y="1506.3"/><use href="#mg" x="1098.7" y="1507.5"/><use href="#mg" x="1111.7" y="1506.9"/><use href="#mg" x="1116.6" y="1508.0"/><use href="#mg" x="1121.8" y="1507.5"/><use href="#mg" x="1127.7" y="1508.9"/><use href="#mg" x="1139.4" y="1508.4"/><use href="#mg" x="1149.0" y="1510.0"/><use href="#mg" x="1155.7" y="1509.5"/><use href="#mg" x="1163.4" y="1510.8"/><use href="#mg" x="1174.9" y="1510.8"/><use href="#mg" x="1184.1" y="1512.6"/><use href="#mg" x="1202.3" y="1512.7"/><use href="#mg" x="1211.4" y="1513.7"/><use href="#mg" x="1221.7" y="1513.1"/><use href="#mg" x="1229.9" y="1514.1"/><use href="#mg" x="1239.5" y="1513.6"/><use href="#mg" x="1260.9" y="1514.4"/><use href="#mg" x="1266.6" y="1514.0"/><use href="#mg" x="1275.1" y="1514.2"/><use href="#mg" x="1282.8" y="1513.9"/><use href="#mg" x="1292.2" y="1514.4"/><use href="#mg" x="1298.0" y="1513.5"/><use href="#mg" x="1308.6" y="1513.9"/><use href="#mg" x="1318.2" y="1513.2"/><use href="#mg" x="1330.8" y="1514.2"/><use href="#mg" x="1336.4" y="1513.1"/><use href="#mg" x="1343.2" y="1513.9"/><use href="#mg" x="1355.7" y="1513.3"/><use href="#mg" x="1367.8" y="1513.6"/><use href="#mg" x="1380.7" y="1512.9"/><use href="#mg" x="1387.0" y="1513.9"/><use href="#mg" x="1395.0" y="1513.0"/><use href="#mg" x="1408.1" y="1514.1"/><use href="#mg" x="1413.1" y="1513.7"/><use href="#mg" x="1423.0" y="1514.2"/><use href="#mg" x="1434.3" y="1513.6"/><use href="#mg" x="1440.0" y="1514.2"/><use href="#mg" x="1452.5" y="1513.9"/><use href="#mg" x="1464.2" y="1514.8"/><use href="#mg" x="1474.8" y="1514.1"/><use href="#mg" x="1485.2" y="1515.3"/><use href="#mg" x="1498.3" y="1514.7"/><use href="#mg" x="1511.4" y="1515.5"/><use href="#mg" x="1524.1" y="1514.7"/><use href="#mg" x="1534.6" y="1515.5"/><use href="#mg" x="1540.9" y="1515.3"/><use href="#mg" x="1549.1" y="1515.4"/><use href="#mg" x="1555.3" y="1515.1"/><use href="#mg" x="1561.6" y="1516.0"/><use href="#mg" x="1568.1" y="1515.1"/><use href="#mg" x="1576.5" y="1515.7"/><use href="#mg" x="1584.6" y="1515.4"/><use href="#mg" x="1590.4" y="1515.8"/><use href="#mg" x="1603.8" y="1515.3"/><use href="#mg" x="1614.7" y="1516.0"/><use href="#mg" x="1622.4" y="1515.4"/><use href="#mg" x="1640.4" y="1516.3"/><use href="#mg" x="1652.9" y="1515.8"/><use href="#mg" x="1665.1" y="1516.4"/><use href="#mg" x="1671.5" y="1516.0"/><use href="#mg" x="1681.0" y="1516.1"/><use href="#mg" x="1694.4" y="1515.6"/><use href="#mg" x="1708.1" y="1516.7"/><use href="#mg" x="1718.9" y="1516.0"/><use href="#mg" x="1730.6" y="1516.6"/><use href="#mg" x="1743.1" y="1515.6"/><use href="#mg" x="1756.5" y="1516.2"/><use href="#mg" x="1766.9" y="1515.7"/><use href="#mg" x="1778.2" y="1516.7"/><use href="#mg" x="1785.3" y="1516.0"/><use href="#mg" x="1795.9" y="1516.3"/><use href="#mg" x="1809.0" y="1515.9"/><use href="#mg" x="1817.6" y="1516.6"/><use href="#mg" x="1825.1" y="1515.7"/><use href="#mg" x="1830.3" y="1516.2"/><use href="#mg" x="1840.1" y="1516.0"/><use href="#mg" x="1850.7" y="1516.5"/><use href="#mg" x="1864.2" y="1516.0"/><use href="#mg" x="1870.6" y="1516.5"/><use href="#mg" x="1884.4" y="1515.7"/><use href="#mg" x="1897.6" y="1516.4"/><use href="#mg" x="1905.4" y="1515.7"/><use href="#mg" x="1912.8" y="1516.6"/><use href="#mg" x="1926.1" y="1515.5"/><use href="#mg" x="1938.1" y="1516.4"/><use href="#mg" x="1945.3" y="1515.6"/><use href="#mg" x="1958.8" y="1516.6"/><use href="#mg" x="1970.9" y="1515.9"/><use href="#mg" x="1980.8" y="1516.1"/><use href="#mg" x="1988.2" y="1515.4"/><use href="#mg" x="1994.6" y="1516.1"/><use href="#mg" x="1999.9" y="1516.0"/><use href="#mg" x="2006.0" y="1516.5"/><use href="#mg" x="2019.9" y="1515.8"/><use href="#mg" x="2032.9" y="1516.1"/><use href="#mg" x="2044.5" y="1515.5"/><use href="#mg" x="2058.1" y="1516.3"/><use href="#mg" x="2069.5" y="1515.7"/><use href="#mg" x="2080.8" y="1516.4"/><use href="#mg" x="2090.8" y="1515.4"/><use href="#mg" x="2097.1" y="1516.5"/><use href="#mg" x="2106.5" y="1515.5"/><use href="#mg" x="2113.0" y="1516.4"/><use href="#mg" x="2120.3" y="1515.6"/><use href="#mg" x="2131.5" y="1516.2"/><use href="#mg" x="2139.4" y="1515.9"/><use href="#mg" x="2148.2" y="1516.1"/><use href="#mg" x="2169.7" y="1515.7"/><use href="#mg" x="2191.6" y="1516.5"/><use href="#mg" x="2198.0" y="1515.9"/><use href="#mg" x="2210.4" y="1516.4"/><use href="#mg" x="2220.4" y="1515.5"/><use href="#mg" x="2231.8" y="1516.4"/></g><text transform="translate(307.5,1723) scale(1.06,1)" text-anchor="middle" font-size="78">0</text><text transform="translate(627.2,1723) scale(1.06,1)" text-anchor="middle" font-size="78">5</text><text transform="translate(946.8,1723) scale(1.06,1)" text-anchor="middle" font-size="78">10</text><text transform="translate(1266.5,1723) scale(1.06,1)" text-anchor="middle" font-size="78">15</text><text transform="translate(1586.2,1723) scale(1.06,1)" text-anchor="middle" font-size="78">20</text><text transform="translate(1905.8,1723) scale(1.06,1)" text-anchor="middle" font-size="78">25</text><text transform="translate(2225.5,1723) scale(1.06,1)" text-anchor="middle" font-size="78">30</text><text transform="translate(257,1632.0) scale(1.06,1)" text-anchor="end" font-size="78">0</text><text transform="translate(257,1118.3) scale(1.06,1)" text-anchor="end" font-size="78">200</text><text transform="translate(257,601.7) scale(1.06,1)" text-anchor="end" font-size="78">400</text><text transform="translate(257,85.0) scale(1.06,1)" text-anchor="end" font-size="78">600</text><text x="1264.5" y="1853" text-anchor="middle" font-size="80">z (A)</text><text transform="translate(99.2,835.5) rotate(-90)" text-anchor="middle" font-size="80">Density (kg/m<tspan font-size="53" dy="-30">3</tspan><tspan dy="30">)</tspan></text><rect x="1506.8" y="142.9" width="585.5" height="480" fill="#fff" stroke="#000" stroke-width="2.2"/><path d="M1516,196H1682" stroke="#0000FF" stroke-width="7.4"/><use href="#Lb" x="1597.9" y="196"/><text x="1716" y="224" font-size="80" letter-spacing="0.8">P<tspan font-size="53" dy="21.5">i</tspan><tspan dy="-21.5">=</tspan>400 bar</text><path d="M1516,314.5H1682" stroke="#EF4142" stroke-width="7.4"/><use href="#Lr" x="1597.9" y="314.5"/><text x="1716" y="341.1" font-size="80" letter-spacing="0.8">P<tspan font-size="53" dy="21.5">1</tspan><tspan dy="-21.5">=</tspan>200 bar</text><path d="M1516,432.6H1682" stroke="#000000" stroke-width="7.4"/><use href="#Lk" x="1597.9" y="432.6"/><text x="1716" y="460.7" font-size="80" letter-spacing="0.8">P<tspan font-size="53" dy="21.5">2</tspan><tspan dy="-21.5">=</tspan>327 bar</text><path d="M1516,548.7H1682" stroke="#3CB371" stroke-width="7.4"/><use href="#Lg" x="1597.9" y="548.7"/><text x="1716" y="575.8" font-size="80" letter-spacing="0.8">P<tspan font-size="53" dy="21.5">3</tspan><tspan dy="-21.5">=</tspan>100 bar</text></svg></body></html>
